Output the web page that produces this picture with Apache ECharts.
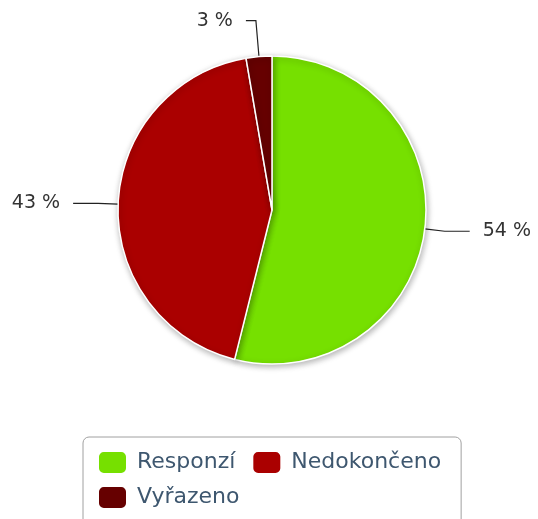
<!DOCTYPE html>
<html>
<head>
<meta charset="utf-8">
<script src="https://cdn.jsdelivr.net/npm/echarts@6/dist/echarts.min.js"></script>
<style>
    html, body { margin: 0; padding: 0; background: #fff; }
    #chart { width: 538px; height: 519px; }
</style>
</head>
<body>
<div id="chart"></div>
<script>
// categories and values (share of respondents, %)
const categories = ['Responzí', 'Nedokončeno', 'Vyřazeno'];
const values = [53.9, 43.4, 2.7];
const colors = ['#76e000', '#aa0000', '#660000'];

const myChart = echarts.init(document.getElementById('chart'));

const pieData = categories.map((name, i) => {
    const item = { name: name, value: values[i], itemStyle: { color: colors[i] } };
    if (i === 2) {
        // small slice at top: label goes up and a bit left
        item.labelLine = { length: 36, length2: 10 };
    }
    return item;
});

const option = {
    animation: false,
    textStyle: { fontFamily: 'DejaVu Sans' },
    legend: {
        left: 83,
        top: 437,
        width: 370,
        orient: 'horizontal',
        itemWidth: 29,
        itemHeight: 23,
        itemGap: 10,
        padding: [13, 14, 22, 14],
        borderColor: '#a0a0a0',
        borderWidth: 1,
        borderRadius: 6,
        icon: 'roundRect',
        textStyle: {
            fontSize: 22,
            lineHeight: 20,
            color: '#3e576f',
            padding: [0, 6, 0, 5]
        },
        data: categories
    },
    series: [
        {
            type: 'pie',
            center: [272, 210],
            radius: 154,
            startAngle: 90,
            clockwise: true,
            avoidLabelOverlap: false,
            itemStyle: {
                borderColor: '#fff',
                borderWidth: 1.5,
                shadowBlur: 6,
                shadowOffsetX: 1,
                shadowOffsetY: 2,
                shadowColor: 'rgba(0,0,0,0.3)'
            },
            label: {
                show: true,
                fontSize: 19,
                color: '#333',
                distanceToLabelLine: 13,
                formatter: p => Math.round(p.value) + ' %'
            },
            labelLine: {
                show: true,
                length: 20,
                length2: 25,
                lineStyle: { color: '#222', width: 1.2 }
            },
            emphasis: { disabled: true },
            data: pieData
        }
    ]
};
myChart.setOption(option);
</script>
</body>
</html>
